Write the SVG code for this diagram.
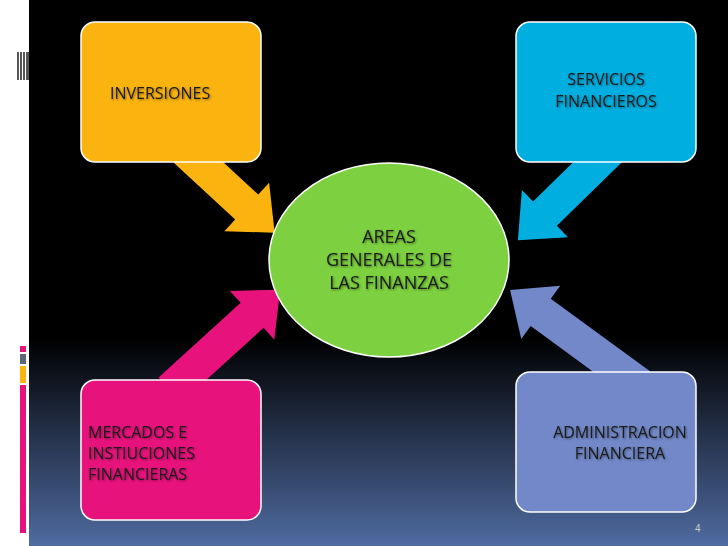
<svg xmlns="http://www.w3.org/2000/svg" width="728" height="546" viewBox="0 0 728 546">
<defs>
<linearGradient id="bg" x1="0" y1="0" x2="0" y2="1">
<stop offset="0" stop-color="#000"/><stop offset="0.62" stop-color="#000"/><stop offset="1" stop-color="#4f6ba0"/>
</linearGradient>
<filter id="sh"><feDropShadow dx="1" dy="1" stdDeviation="1" flood-color="#000" flood-opacity="0.45"/></filter>
</defs>
<style>
.box{stroke:#fff;stroke-width:1.5}
.t{font-family:"Open Sans","Liberation Sans",sans-serif;font-size:16px;fill:#1a1a1a;filter:url(#sh)}
.c{font-family:"Open Sans","Liberation Sans",sans-serif;font-size:18px;fill:#1a1a1a;text-anchor:middle;filter:url(#sh)}
</style>
<rect width="728" height="546" fill="#fff"/>
<rect x="29" width="699" height="546" fill="url(#bg)"/>
<g fill="#555">
<rect x="17" y="52" width="2" height="28"/><rect x="20" y="52" width="2" height="28"/><rect x="23" y="52" width="2" height="28"/><rect x="26" y="52" width="3" height="28"/>
</g>
<rect x="20" y="346" width="6" height="6" fill="#e8127c"/>
<rect x="20" y="354" width="6" height="10" fill="#5b6777"/>
<rect x="20" y="366" width="6" height="17" fill="#fbb40f"/>
<rect x="20" y="385" width="6" height="148" fill="#e8127c"/>
<g id="connectors">
<polygon fill="#fbb40f" points="0,-17 84,-17 84,-33 122,0 84,33 84,17 0,17" transform="translate(185,150) rotate(42.7)"/>
<polygon fill="#00aee0" points="0,-17 91,-17 91,-33 129,0 91,33 91,17 0,17" transform="translate(610,150) rotate(135.6)"/>
<polygon fill="#e8127c" points="0,-17 111,-17 111,-33 149,0 111,33 111,17 0,17" transform="translate(170,390) rotate(-42.3)"/>
<polygon fill="#7288c8" points="0,-17 123,-17 123,-33 161,0 123,33 123,17 0,17" transform="translate(640,385) rotate(216.2)"/>
</g>
<g id="inversiones"><rect class="box" x="81" y="22" width="180" height="140" rx="14" fill="#fbb40f"/><text class="t" x="110" y="99">INVERSIONES</text></g>
<g id="servicios"><rect class="box" x="516" y="22" width="180" height="140" rx="14" fill="#00aee0"/><text class="t" x="606" y="85" text-anchor="middle">SERVICIOS</text><text class="t" x="606" y="107" text-anchor="middle">FINANCIEROS</text></g>
<g id="mercados"><rect class="box" x="81" y="380" width="180" height="140" rx="14" fill="#e8127c"/><text class="t" x="88" y="438">MERCADOS E</text><text class="t" x="88" y="459">INSTIUCIONES</text><text class="t" x="88" y="480">FINANCIERAS</text></g>
<g id="administracion"><rect class="box" x="516" y="372" width="180" height="140" rx="14" fill="#7288c8"/><text class="t" x="620" y="438" text-anchor="middle">ADMINISTRACION</text><text class="t" x="620" y="459" text-anchor="middle">FINANCIERA</text></g>
<g id="centro"><ellipse class="box" cx="389" cy="260" rx="120" ry="97" fill="#7dd03f"/><text class="c" x="389" y="243">AREAS</text><text class="c" x="389" y="266">GENERALES DE</text><text class="c" x="389" y="289">LAS FINANZAS</text></g>
<text x="695" y="532" font-family="Liberation Sans,sans-serif" font-size="10" fill="#ccc">4</text>
</svg>
